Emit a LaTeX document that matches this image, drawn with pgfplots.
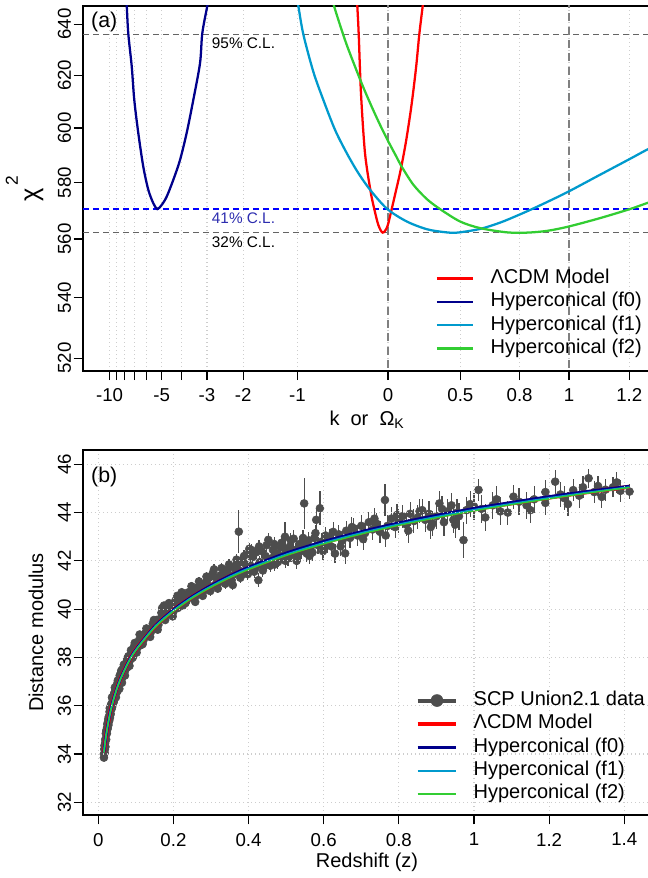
\documentclass[border=0pt]{standalone}
\usepackage{fontspec}
\setmainfont{Liberation Sans}
\setsansfont{Liberation Sans}
\usepackage{pgfplots}
\pgfplotsset{compat=1.18}
\usepackage{pgfplotstable}

\definecolor{lcdm}{RGB}{255,0,0}
\definecolor{fzero}{RGB}{0,0,139}
\definecolor{fone}{RGB}{0,154,205}
\definecolor{ftwo}{RGB}{50,205,50}
\definecolor{ptgray}{RGB}{77,77,77}
\definecolor{refgray}{RGB}{100,100,100}
\definecolor{gridgray}{RGB}{205,205,205}
\definecolor{clblue}{RGB}{0,0,255}
\definecolor{cltext}{RGB}{45,45,175}

% SCP Union2.1: redshift, distance modulus, error
\pgfplotstableread{
z mu e
0.015 33.85 0.12
0.016 34.20 0.14
0.017 34.05 0.15
0.018 34.45 0.13
0.019 34.30 0.12
0.020 34.85 0.12
0.021 34.60 0.14
0.022 35.00 0.13
0.023 34.85 0.12
0.024 35.25 0.12
0.025 35.05 0.11
0.026 35.35 0.12
0.027 35.20 0.13
0.028 35.55 0.12
0.029 35.40 0.11
0.030 35.75 0.12
0.031 35.50 0.12
0.032 35.80 0.11
0.033 35.65 0.12
0.034 36.05 0.11
0.035 35.85 0.12
0.036 36.10 0.11
0.037 35.95 0.12
0.038 36.30 0.11
0.039 36.10 0.10
0.040 36.40 0.11
0.042 36.25 0.11
0.043 36.55 0.10
0.045 36.40 0.11
0.046 36.70 0.10
0.048 36.55 0.11
0.050 36.90 0.10
0.051 36.60 0.11
0.053 37.00 0.10
0.055 36.85 0.10
0.057 37.25 0.11
0.058 37.00 0.10
0.060 37.35 0.10
0.062 37.10 0.10
0.064 37.50 0.10
0.066 37.30 0.11
0.068 37.70 0.10
0.070 37.40 0.10
0.072 37.65 0.11
0.074 37.55 0.10
0.076 37.85 0.10
0.078 37.60 0.11
0.080 38.05 0.10
0.082 37.80 0.10
0.085 38.10 0.11
0.088 37.95 0.10
0.090 38.25 0.10
0.093 38.10 0.11
0.095 38.45 0.10
0.098 38.25 0.10
0.100 38.55 0.11
0.104 38.40 0.12
0.108 38.70 0.11
0.112 38.50 0.12
0.116 38.85 0.12
0.120 38.70 0.13
0.125 39.00 0.12
0.130 38.90 0.13
0.135 39.15 0.13
0.140 39.05 0.14
0.145 39.40 0.13
0.150 39.20 0.14
0.155 39.55 0.14
0.160 39.35 0.15
0.165 39.60 0.14
0.170 40.05 0.15
0.175 40.15 0.16
0.180 39.75 0.15
0.185 40.00 0.15
0.190 39.85 0.16
0.195 40.10 0.15
0.200 39.90 0.16
0.205 40.35 0.16
0.210 40.55 0.17
0.215 40.25 0.16
0.220 40.45 0.17
0.225 40.15 0.16
0.230 40.55 0.17
0.235 40.35 0.16
0.240 40.70 0.17
0.245 40.50 0.17
0.250 40.75 0.18
0.255 40.45 0.17
0.260 40.85 0.18
0.265 40.60 0.18
0.270 40.95 0.18
0.275 40.70 0.19
0.280 41.05 0.18
0.285 40.80 0.19
0.290 41.20 0.19
0.295 40.95 0.18
0.300 41.35 0.20
0.305 41.50 0.20
0.310 41.00 0.20
0.315 41.25 0.19
0.320 41.10 0.20
0.325 41.40 0.20
0.330 41.20 0.21
0.335 41.55 0.21
0.340 41.30 0.20
0.345 41.65 0.21
0.350 41.40 0.22
0.355 41.20 0.21
0.360 41.75 0.22
0.365 41.50 0.22
0.370 41.85 0.22
0.374 43.21 0.90
0.375 41.60 0.23
0.380 42.00 0.23
0.385 41.45 0.22
0.390 41.90 0.24
0.395 41.70 0.23
0.400 42.30 0.25
0.402 42.50 0.26
0.405 41.80 0.24
0.410 42.15 0.25
0.415 41.55 0.24
0.420 42.35 0.26
0.426 41.20 0.30
0.430 41.95 0.25
0.435 42.40 0.27
0.440 41.75 0.26
0.445 42.20 0.27
0.4525 42.87 0.30
0.455 41.90 0.27
0.460 42.10 0.28
0.465 42.45 0.28
0.470 41.85 0.28
0.475 42.30 0.29
0.480 42.05 0.29
0.485 42.55 0.30
0.490 42.20 0.30
0.497 43.00 0.60
0.500 42.35 0.30
0.505 42.10 0.31
0.510 42.60 0.31
0.515 42.25 0.30
0.520 42.92 0.35
0.525 42.45 0.31
0.530 42.15 0.32
0.535 42.70 0.32
0.540 42.40 0.32
0.548 44.38 1.05
0.550 42.60 0.33
0.555 42.30 0.33
0.560 42.85 0.34
0.565 42.55 0.34
0.570 42.35 0.35
0.575 42.95 0.35
0.580 43.70 0.50
0.585 42.65 0.35
0.590 44.18 0.70
0.595 42.80 0.36
0.600 42.50 0.37
0.605 43.05 0.37
0.610 42.70 0.37
0.615 42.95 0.38
0.620 42.60 0.38
0.630 42.30 0.40
0.640 43.10 0.39
0.650 42.85 0.40
0.657 42.31 0.45
0.660 43.25 0.40
0.670 42.95 0.41
0.680 43.35 0.42
0.690 43.05 0.42
0.700 43.45 0.43
0.710 43.15 0.43
0.720 43.60 0.44
0.730 43.30 0.44
0.740 43.55 0.45
0.750 43.20 0.46
0.763 44.52 0.66
0.770 43.45 0.46
0.780 43.75 0.47
0.790 43.40 0.47
0.800 43.65 0.48
0.810 43.85 0.48
0.820 43.50 0.49
0.830 43.95 0.49
0.840 43.65 0.50
0.850 43.80 0.50
0.862 44.10 0.45
0.870 43.70 0.50
0.880 43.95 0.51
0.890 43.55 0.52
0.900 43.85 0.52
0.908 44.38 0.50
0.920 43.60 0.55
0.930 44.05 0.53
0.940 44.30 0.50
0.945 43.70 0.55
0.955 44.00 0.55
0.960 43.85 0.56
0.972 42.86 0.75
0.980 44.10 0.56
1.000 44.25 0.55
1.012 44.94 0.45
1.020 44.15 0.57
1.050 44.30 0.57
1.070 44.05 0.58
1.090 44.00 0.50
1.105 44.66 0.50
1.120 44.45 0.55
1.140 44.30 0.55
1.160 44.55 0.55
1.190 44.40 0.52
1.216 45.28 0.50
1.230 44.75 0.50
1.240 44.60 0.50
1.264 44.93 0.45
1.280 44.70 0.50
1.305 45.42 0.40
1.320 44.85 0.45
1.330 45.10 0.40
1.350 44.95 0.45
1.370 45.05 0.42
1.390 44.90 0.45
1.414 44.87 0.30
0.0155 34.00 0.15
0.0165 34.35 0.14
0.0175 34.20 0.13
0.0185 34.60 0.13
0.0215 34.95 0.13
0.0235 35.10 0.12
0.0265 35.45 0.12
0.0285 35.35 0.12
0.0305 35.90 0.12
0.0335 35.95 0.12
0.0365 36.35 0.11
0.041 36.15 0.11
0.044 36.75 0.11
0.047 36.35 0.11
0.052 37.05 0.10
0.056 36.70 0.10
0.061 37.45 0.10
0.063 36.95 0.10
0.067 37.55 0.10
0.071 37.25 0.11
0.077 37.95 0.10
0.083 37.65 0.10
0.087 38.30 0.10
0.092 38.00 0.11
0.097 38.60 0.10
0.102 38.20 0.11
0.110 38.95 0.12
0.118 38.55 0.12
0.128 39.20 0.13
0.138 38.85 0.13
0.148 39.55 0.14
0.158 39.15 0.15
0.168 39.85 0.15
0.178 39.55 0.15
0.188 40.25 0.16
0.198 39.70 0.16
0.212 40.05 0.16
0.222 40.70 0.17
0.232 40.25 0.17
0.248 40.95 0.18
0.258 40.30 0.18
0.268 41.15 0.18
0.278 40.55 0.19
0.288 41.35 0.19
0.298 40.75 0.19
0.308 41.65 0.20
0.318 40.85 0.20
0.328 41.70 0.21
0.338 41.05 0.21
0.348 41.85 0.21
0.358 41.00 0.22
0.368 42.05 0.23
0.378 41.30 0.23
0.388 42.20 0.24
0.398 41.45 0.24
0.408 42.45 0.25
0.418 41.70 0.25
0.428 42.60 0.26
0.438 41.60 0.26
0.448 42.65 0.27
0.458 41.80 0.28
0.468 42.70 0.28
0.478 41.95 0.29
0.488 42.75 0.30
0.498 42.00 0.30
0.512 42.85 0.31
0.528 42.00 0.32
0.545 42.95 0.33
0.562 42.20 0.34
0.578 43.15 0.35
0.598 42.40 0.36
0.625 43.20 0.39
0.645 42.60 0.40
0.675 43.40 0.41
0.705 42.90 0.43
0.735 43.75 0.45
0.765 43.05 0.46
0.795 43.90 0.47
0.825 43.25 0.49
0.855 44.05 0.50
0.885 43.40 0.51
0.915 44.15 0.52
0.950 43.50 0.55
0.990 44.35 0.55
1.030 43.80 0.57
1.060 44.55 0.55
1.150 44.10 0.55
1.190 44.85 0.52
1.250 44.35 0.50
1.290 45.05 0.45
1.340 44.65 0.45
1.380 45.25 0.42
}\snedata

% model curves in panel (b): z, LCDM, f0, f1, f2
\pgfplotstableread{
z lcdm f0 f1 f2
0.015 34.07 34.07 34.07 34.06
0.02 34.70 34.70 34.70 34.69
0.03 35.60 35.60 35.59 35.58
0.04 36.24 36.24 36.23 36.22
0.05 36.74 36.74 36.73 36.72
0.06 37.15 37.15 37.14 37.13
0.08 37.81 37.81 37.80 37.78
0.10 38.32 38.32 38.31 38.29
0.15 39.27 39.28 39.26 39.23
0.20 39.96 39.97 39.94 39.91
0.25 40.51 40.52 40.49 40.46
0.30 40.96 40.98 40.94 40.91
0.35 41.36 41.38 41.34 41.30
0.40 41.70 41.73 41.68 41.64
0.50 42.28 42.32 42.26 42.22
0.60 42.76 42.80 42.74 42.70
0.70 43.17 43.21 43.15 43.11
0.80 43.53 43.57 43.51 43.47
0.90 43.84 43.88 43.82 43.78
1.00 44.13 44.17 44.11 44.07
1.10 44.38 44.42 44.36 44.33
1.20 44.62 44.66 44.60 44.57
1.30 44.84 44.87 44.82 44.80
1.414 45.07 45.09 45.05 45.04
}\modeldata

\pgfplotsset{
  rbox/.style={
    scale only axis, width=426pt, height=273.75pt,
    axis line style={line width=1pt},
    every tick/.style={black, line width=0.9pt},
    tick align=outside, major tick length=7pt,
    xtick pos=bottom, ytick pos=left,
    tick label style={font=\fontsize{14}{16}\selectfont},
    yticklabel style={rotate=90, anchor=south},
    xticklabel shift=3pt, yticklabel shift=-1.5pt,
    grid style={gridgray, line width=0.8pt, dash pattern=on 0.8pt off 2.2pt},
    legend cell align=left,
    label style={font=\fontsize{15}{18}\selectfont},
    clip marker paths=true,
  },
}

\begin{document}
\begin{tikzpicture}[x=1pt,y=1pt]
\useasboundingbox (0,0) rectangle (485.25,658.5);

% ---------------- panel (a) ----------------
\begin{axis}[rbox,
  at={(62.25pt,380.25pt)}, anchor=south west,
  x coord trafo/.code={\pgfmathparse{#1/(3-#1)}},
  x coord inv trafo/.code={\pgfmathparse{3*#1/(1+#1)}},
  xmin=-16.05, xmax=1.2624,
  ymode=log, ymin=515.9, ymax=647.3,
  xtick={-10,-9,-8,-7,-6,-5,-4,-3,-2,-1,0,0.5,0.8,1,1.2},
  xticklabels={-10,,,,,-5,,-3,-2,-1,0,0.5,0.8,1,1.2},
  ytick={520,540,560,580,600,620,640},
  yticklabels={520,540,560,580,600,620,640},
  xmajorgrids,
  xlabel={k\ \ or\ \ Ω\textsubscript{K}},
  ylabel={\fontsize{19}{21}\selectfont χ\raisebox{0.8em}{\fontsize{13}{15}\selectfont\,2}},
  xlabel style={at={(axis description cs:0.5,-0.134)}, anchor=center},
  ylabel style={at={(axis description cs:-0.103,0.5)}, anchor=center},
  legend image code/.code={\draw[#1] (0pt,0pt) -- (27pt,0pt);},
  legend style={draw=none, fill=none, font=\fontsize{15}{18}\selectfont,
    at={(0.6204,0.286)}, anchor=north west, inner sep=0pt,
    row sep=0pt, column sep=11.5pt,
    nodes={inner sep=1pt, text height=11.5pt, text depth=4pt}},
]
% reference lines
\addplot[refgray, line width=0.9pt, dash pattern=on 4.5pt off 3pt, forget plot] coordinates {(-20,636) (1.5,636)};
\addplot[clblue, line width=0.9pt, dash pattern=on 4.5pt off 3pt, forget plot] coordinates {(-20,570.5) (1.5,570.5)};
\addplot[refgray, line width=0.9pt, dash pattern=on 4.5pt off 3pt, forget plot] coordinates {(-20,562.2) (1.5,562.2)};
\addplot[gray, line width=1.1pt, dash pattern=on 6pt off 4pt, forget plot] coordinates {(0,500) (0,660)};
\addplot[gray, line width=1.1pt, dash pattern=on 6pt off 4pt, forget plot] coordinates {(1,500) (1,660)};

\addplot[lcdm, line width=1.7pt, smooth] coordinates {
 (-0.29,656) (-0.278,647.3) (-0.264,636.0) (-0.242,613.1) (-0.2035,590.7)
 (-0.151,576.7) (-0.118,570.5) (-0.0823,564.9) (-0.0448,562.2) (-0.0058,564.3)
 (0.0303,570.5) (0.0649,577.1) (0.1017,584.6) (0.1421,595.0) (0.1814,608.0)
 (0.2153,622.7) (0.2388,636.0) (0.2625,647.3) (0.275,654)};
\addlegendentry{ΛCDM Model}
\addplot[fzero, line width=1.7pt, smooth] coordinates {
 (-7.9,652) (-7.78,647.3) (-7.62,636.4) (-7.27,623.4) (-7.03,610.6) (-6.67,598.1)
 (-6.26,585.8) (-5.88,577.4) (-5.53,572.6) (-5.27,570.5) (-5.00,572.0)
 (-4.72,574.9) (-4.37,581.0) (-4.05,588.2) (-3.76,598.1) (-3.49,610.6)
 (-3.24,624.7) (-3.16,636.4) (-2.99,647.3) (-2.93,652)};
\addlegendentry{Hyperconical (f0)}
\addplot[fone, line width=1.7pt, smooth] coordinates {
 (-1.02,652) (-0.988,647.3) (-0.916,636.0) (-0.780,621.4) (-0.653,610.6)
 (-0.5145,599.3) (-0.386,590.7) (-0.268,583.4) (-0.1506,577.1) (-0.0055,570.5)
 (0.1474,566.1) (0.2897,563.4) (0.40,562.4) (0.48,562.2) (0.608,563.5)
 (0.709,565.7) (0.7868,568.1) (0.859,570.7) (0.9275,573.5) (0.9973,576.7)
 (1.108,582.8) (1.202,588.6) (1.250,591.9) (1.28,593.8)};
\addlegendentry{Hyperconical (f1)}
\addplot[ftwo, line width=1.7pt, smooth] coordinates {
 (-0.56,652) (-0.526,647.3) (-0.4586,639.7) (-0.386,631.8) (-0.301,623.4)
 (-0.2255,615.9) (-0.1417,608.0) (-0.0678,601.2) (0.0025,595.0) (0.0703,589.2)
 (0.109,585.8) (0.196,579.2) (0.2897,574.1) (0.3768,570.5) (0.4977,566.1)
 (0.608,563.8) (0.7408,562.3) (0.831,562.2) (0.914,562.8) (0.997,564.3)
 (1.108,567.3) (1.202,570.5) (1.250,572.6) (1.28,574.0)};
\addlegendentry{Hyperconical (f2)}

\node[anchor=north west, inner sep=0pt, font=\fontsize{16}{19}\selectfont]
  at (rel axis cs:0.014,0.984) {(a)};
\node[anchor=north west, inner sep=0pt, yshift=-2.6pt, font=\fontsize{11.5}{13}\selectfont]
  at ({rel axis cs:0.2266,0}|-{axis cs:0,636}) {95\% C.L.};
\node[anchor=north west, inner sep=0pt, yshift=-2.6pt, text=cltext, font=\fontsize{11.5}{13}\selectfont]
  at ({rel axis cs:0.2266,0}|-{axis cs:0,570.5}) {41\% C.L.};
\node[anchor=north west, inner sep=0pt, yshift=-2.6pt, font=\fontsize{11.5}{13}\selectfont]
  at ({rel axis cs:0.2266,0}|-{axis cs:0,562.2}) {32\% C.L.};
\end{axis}

% ---------------- panel (b) ----------------
\begin{axis}[rbox,
  at={(62.25pt,47.25pt)}, anchor=south west,
  axis on top,
  xmin=-0.0407, xmax=1.4711, ymin=31.474, ymax=46.592,
  xtick={0,0.2,0.4,0.6,0.8,1,1.2,1.4},
  xticklabels={0,0.2,0.4,0.6,0.8,1,1.2,1.4},
  ytick={32,34,36,38,40,42,44,46},
  yticklabels={32,34,36,38,40,42,44,46},
  grid=major,
  xlabel={Redshift (z)},
  ylabel={Distance modulus},
  xlabel style={at={(axis description cs:0.5,-0.129)}, anchor=center},
  ylabel style={at={(axis description cs:-0.083,0.5)}, anchor=center},
  legend image code/.code={\draw[#1] (0pt,0pt) -- (29pt,0pt);},
  legend style={draw=none, fill=none, font=\fontsize{15}{18}\selectfont,
    at={(0.5852,0.3463)}, anchor=north west, inner sep=0pt,
    row sep=0pt, column sep=10.5pt,
    nodes={inner sep=1pt, text height=11.5pt, text depth=4pt}},
]
\addplot[ptgray, only marks, mark=*, mark size=3pt,
  mark options={fill=ptgray, draw=ptgray},
  legend image code/.code={\draw[ptgray, line width=3pt] (0pt,0pt) -- (29pt,0pt);
    \fill[ptgray] (14.5pt,0pt) circle (4.5pt);},
  error bars/.cd, y dir=both, y explicit, error mark=none,
  error bar style={line width=0.9pt, ptgray}]
  table[x=z, y=mu, y error=e] {\snedata};
\addlegendentry{SCP Union2.1 data}
\addplot[lcdm, line width=3pt, smooth] table[x=z, y=lcdm] {\modeldata};
\addlegendentry{ΛCDM Model}
\addplot[fzero, line width=2.2pt, smooth] table[x=z, y=f0] {\modeldata};
\addlegendentry{Hyperconical (f0)}
\addplot[fone, line width=1.5pt, smooth] table[x=z, y=f1] {\modeldata};
\addlegendentry{Hyperconical (f1)}
\addplot[ftwo, line width=1pt, smooth] table[x=z, y=f2] {\modeldata};
\addlegendentry{Hyperconical (f2)}

\node[anchor=north west, inner sep=0pt, font=\fontsize{16}{19}\selectfont]
  at (rel axis cs:0.014,0.955) {(b)};
\end{axis}
\end{tikzpicture}
\end{document}
